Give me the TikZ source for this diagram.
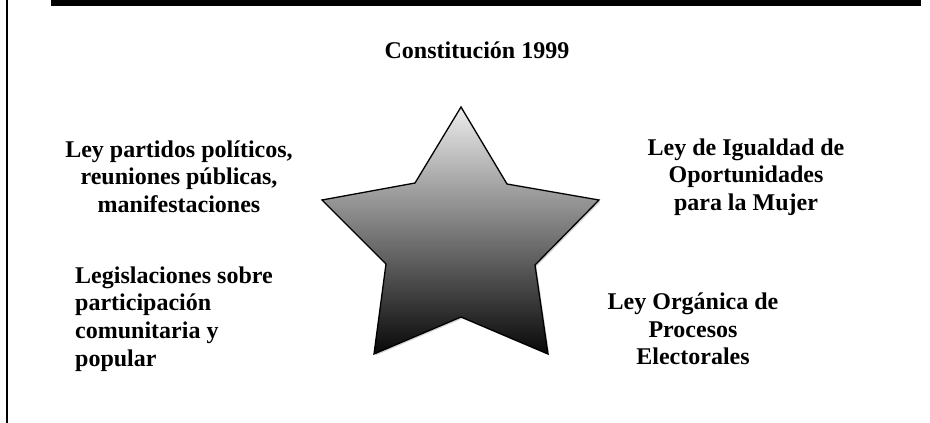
\documentclass[tikz,border=0pt]{standalone}
\usepackage{fontspec}
\setmainfont{Liberation Serif}
\usetikzlibrary{shadows}
\definecolor{startop}{RGB}{236,236,236}
\definecolor{starbot}{RGB}{8,8,8}
\begin{document}
\begin{tikzpicture}[x=1pt,y=-1pt,
  lbl/.style={font=\fontsize{24}{27.6}\selectfont\bfseries, inner sep=0pt},
  starshape/.style={draw=black, line width=1.3pt, line join=miter,
    top color=startop, bottom color=starbot,
    drop shadow={opacity=0.35, shadow xshift=1.5pt, shadow yshift=-1.5pt}},
  framebar/.style={fill=black, draw=none},
  frameline/.style={draw=black, line width=1.6pt}]
\useasboundingbox (0,0) rectangle (930,423);
% frame
\fill[framebar] (51,0) rectangle (921,6);
\coordinate (ltop) at (7,0);
\coordinate (lbot) at (7,423);
\draw[frameline] (ltop) -- (lbot);
% star
\coordinate (s1) at (461,107);
\coordinate (s2) at (507,184);
\coordinate (s3) at (599,200);
\coordinate (s4) at (535,265);
\coordinate (s5) at (548,354);
\coordinate (s6) at (461,317);
\coordinate (s7) at (374,354);
\coordinate (s8) at (386,264);
\coordinate (s9) at (322,200);
\coordinate (s10) at (415,183);
\path[starshape] (s1) -- (s2) -- (s3) -- (s4) -- (s5) -- (s6) -- (s7) -- (s8) -- (s9) -- (s10) -- cycle;
% labels
\node[lbl, anchor=north] (const) at (477,38.7) {\strut Constitución 1999};
\node[lbl, anchor=north, align=center] (partidos) at (179,137.7)
  {\strut Ley partidos políticos,\\reuniones públicas,\\manifestaciones};
\node[lbl, anchor=north west, align=left] (legis) at (75,263.7)
  {\strut Legislaciones sobre\\participación\\comunitaria y\\popular};
\node[lbl, anchor=north, align=center] (igualdad) at (746,135.7)
  {\strut Ley de Igualdad de\\Oportunidades\\para la Mujer};
\node[lbl, anchor=north, align=center] (organica) at (693,290)
  {\strut Ley Orgánica de\\Procesos\\Electorales};
\end{tikzpicture}
\end{document}
